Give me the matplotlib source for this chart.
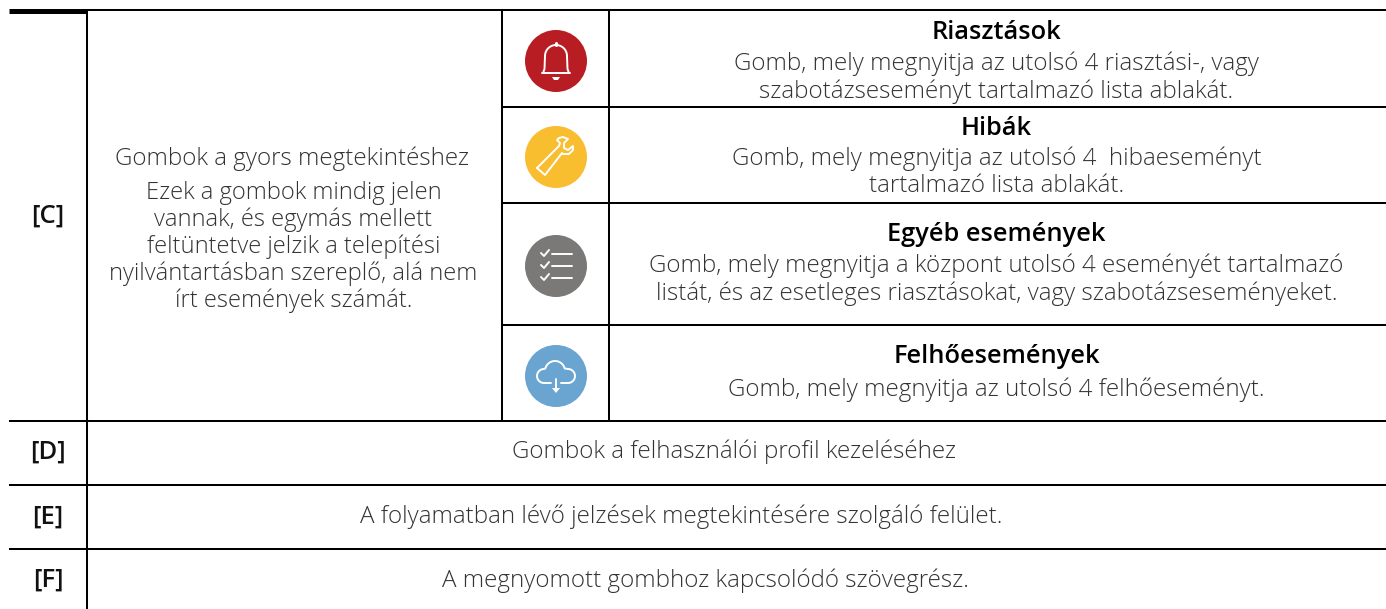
import matplotlib
matplotlib.use("Agg")
import matplotlib.pyplot as plt
import numpy as np
from matplotlib.patches import Circle, Polygon

plt.rcParams['font.family'] = ['Open Sans', 'DejaVu Sans']

row_labels = ["[C]", "[D]", "[E]", "[F]"]
row_baselines = [223, 459, 524, 587]
c_title = "Gombok a gyors megtekintéshez"
c_body = ["Ezek a gombok mindig jelen", "vannak, és egymás mellett", "feltüntetve jelzik a telepítési",
          "nyilvántartásban szereplő, alá nem", "írt események számát."]
c_body_y = [199, 226.5, 253, 280, 307]
headings = ["Riasztások", "Hibák", "Egyéb események", "Felhőesemények"]
heading_y = [39, 135, 241, 363]
details = [["Gomb, mely megnyitja az utolsó 4 riasztási-, vagy", "szabotázseseményt tartalmazó lista ablakát."],
           ["Gomb, mely megnyitja az utolsó 4  hibaeseményt", "tartalmazó lista ablakát."],
           ["Gomb, mely megnyitja a központ utolsó 4 eseményét tartalmazó", "listát, és az esetleges riasztásokat, vagy szabotázseseményeket."],
           ["Gomb, mely megnyitja az utolsó 4 felhőeseményt."]]
detail_y = [[70, 98], [165, 192], [271.5, 300], [396.5]]
wide_rows = ["Gombok a felhasználói profil kezeléséhez",
             "A folyamatban lévő jelzések megtekintésére szolgáló felület.",
             "A megnyomott gombhoz kapcsolódó szövegrész."]
wide_x = [733.5, 681, 705.5]
wide_y = [458, 523, 587]
icon_colors = ["#B81D23", "#F9BE2F", "#7A7978", "#69A5D0"]
icon_y = [61, 157, 266, 376]
icon_x = 556

W, H = 1386, 609
fig = plt.figure(figsize=(W/100, H/100), dpi=100)
ax = fig.add_axes([0, 0, 1, 1])
ax.set_xlim(0, W); ax.set_ylim(H, 0); ax.axis("off")

def hl(y, x0, x1=W, lw=1.45):
    ax.plot([x0, x1], [y, y], color="k", lw=lw, solid_capstyle="butt")
def vl(x, y0, y1, lw=1.45):
    ax.plot([x, x], [y0, y1], color="k", lw=lw, solid_capstyle="butt")

hl(10, 87)
hl(10.5, 9, 87, lw=3.6)
for y in (107, 202.5, 324.5):
    hl(y, 502)
for y in (421, 485, 548.5):
    hl(y, 9)
vl(87, 9, H)
vl(502, 10, 421)
vl(609, 10, 421)

TXT = dict(ha="center", va="baseline", color="#333333", fontweight="light")
FS = 17.4
for lab, y in zip(row_labels, row_baselines):
    ax.text(48, y, lab, ha="center", va="baseline", color="#111111", fontsize=18.5, fontweight="semibold")
ax.text(292, 165, c_title, fontsize=FS, **TXT)
for s, y in zip(c_body, c_body_y):
    ax.text(293.5, y, s, fontsize=17.15, **TXT)
for h, y in zip(headings, heading_y):
    ax.text(996.5, y, h, ha="center", va="baseline", color="k", fontsize=18.3, fontweight="semibold")
for lines, ys in zip(details, detail_y):
    for s, y in zip(lines, ys):
        ax.text(996.5, y, s, fontsize=FS, **TXT)
for s, x, y in zip(wide_rows, wide_x, wide_y):
    ax.text(x, y, s, fontsize=FS, **TXT)

for c, y in zip(icon_colors, icon_y):
    ax.add_patch(Circle((icon_x, y), 31, fc=c, ec="none"))

WLW = 1.4
def w(xs, ys, lw=WLW):
    ax.plot(xs, ys, color="w", lw=lw, solid_capstyle="round", solid_joinstyle="round")
def arc(cx, cy, r, a0, a1):
    t = np.radians(np.linspace(a0, a1, 24))
    return list(cx + r*np.cos(t)), list(cy + r*np.sin(t))

# bell
cx, cy = icon_x, 61
w([cx-14, cx+14], [cy+12, cy+12])
ax_l, ay_l = arc(cx, cy-5, 11, 180, 360)
w([cx-13, cx-11.5] + ax_l + [cx+11.5, cx+13], [cy+12, cy+8] + ay_l + [cy+8, cy+12])
w([cx, cx], [cy-16, cy-18], lw=2.2)
ax.add_patch(Polygon([(cx-4, cy+16), (cx+4, cy+16), (cx+2, cy+19), (cx-2, cy+19)], fc="w", ec="none"))

# wrench
cx, cy = icon_x, 157
w([cx-19, cx+3, cx+4, cx+1, cx+3, cx+7, cx+12, cx+8, cx+8, cx+12, cx+17, cx+17, cx+13, cx+7, cx+6, cx-11, cx-19],
  [cy+11, cy-11, cy-14, cy-17, cy-19, cy-20, cy-18, cy-14, cy-9, cy-7, cy-11, cy-7, cy-3, cy-3, cy-4, cy+18, cy+11])

# list
cx, cy = icon_x, 266
for dy in (-13, -1, 11):
    w([cx-15, cx-12, cx-7], [cy+dy, cy+dy+3, cy+dy-3])
    w([cx-4, cx+16], [cy+dy+0.5, cy+dy+0.5])

# cloud
cx, cy = icon_x, 376
lx, ly = arc(cx-12, cy, 7, 90, 270)
tx, ty = arc(cx-1, cy-5, 10, 195, 345)
rx, ry = arc(cx+12, cy, 7, -90, 90)
w([cx-5] + lx + tx + rx + [cx+5], [cy+7] + ly + ty + ry + [cy+7])
w([cx, cx], [cy+3, cy+14], lw=1.4)
ax.add_patch(Polygon([(cx-4, cy+12), (cx+4, cy+12), (cx, cy+17)], fc="w", ec="none"))

fig.savefig("out.png", dpi=100, facecolor="w")
